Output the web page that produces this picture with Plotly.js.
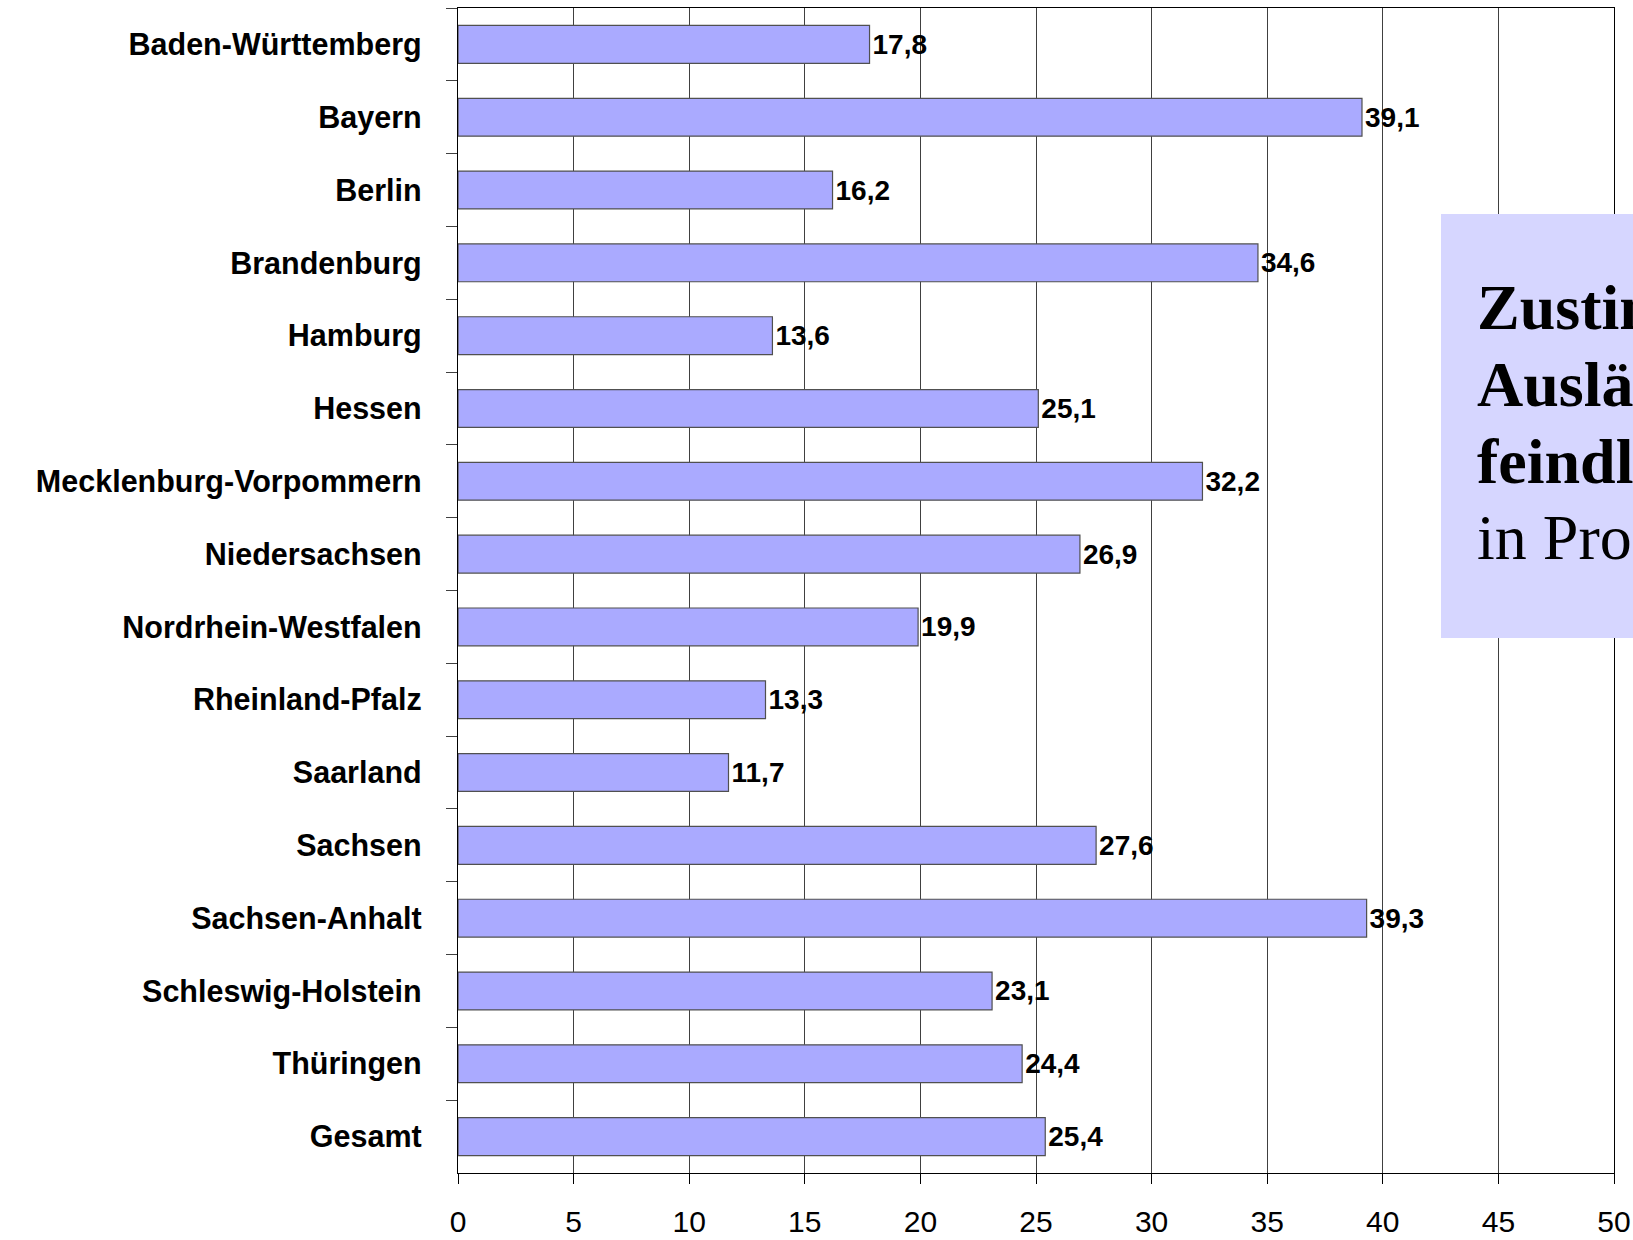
<!DOCTYPE html>
<html>
<head>
<meta charset="utf-8">
<script src="https://cdn.plot.ly/plotly-3.0.1.min.js"></script>
<style>html,body{margin:0;padding:0;background:#fff;overflow:hidden;}</style>
</head>
<body>
<div id="chart" style="width:1633px;height:1240px;"></div>
<script>
const states = ["Baden-Württemberg", "Bayern", "Berlin", "Brandenburg", "Hamburg", "Hessen",
  "Mecklenburg-Vorpommern", "Niedersachsen", "Nordrhein-Westfalen", "Rheinland-Pfalz",
  "Saarland", "Sachsen", "Sachsen-Anhalt", "Schleswig-Holstein", "Thüringen", "Gesamt"];
const values = [17.8, 39.1, 16.2, 34.6, 13.6, 25.1, 32.2, 26.9, 19.9, 13.3, 11.7, 27.6, 39.3, 23.1, 24.4, 25.4];
const xTicks = [0, 5, 10, 15, 20, 25, 30, 35, 40, 45, 50];
const boxLines = ["<b>Zustimmung zur</b>", "<b>Ausländer-</b>", "<b>feindlichkeit</b>", "in Prozent"];

const W = 1633, H = 1240;
const mL = 458, mR = 19, mT = 8, mB = 67;
const plotH = H - mT - mB;
const plotW = W - mL - mR;
const py = (pix) => 1 - (pix - mT) / plotH;
const px = (pix) => (pix - mL) / plotW;

const trace = {
  type: "bar",
  orientation: "h",
  y: states,
  x: values,
  width: 0.52,
  marker: { color: "#AAAAFF", line: { color: "#505050", width: 1.2 } },
  texttemplate: "<b>%{x:.1f}</b>",
  textposition: "outside",
  cliponaxis: false,
  textfont: { family: "Liberation Sans, Arial, sans-serif", size: 28, color: "#000", weight: "bold" },
  hoverinfo: "skip"
};

const lineCenters = [307, 384, 461, 537];
const annotations = boxLines.map((t, i) => ({
  xref: "paper", yref: "paper",
  x: px(1475), y: py(lineCenters[i]),
  xanchor: "left", yanchor: "middle",
  text: t, showarrow: false, align: "left",
  font: { family: "Liberation Serif, Times New Roman, serif", size: 64, color: "#000" }
}));

const layout = {
  width: W, height: H,
  margin: { l: mL, r: mR, t: mT, b: mB, pad: 0 },
  paper_bgcolor: "#fff", plot_bgcolor: "#fff",
  separators: ",.",
  showlegend: false,
  bargap: 0.48,
  xaxis: {
    range: [0, 50], tickvals: xTicks, ticktext: xTicks.map(String),
    showgrid: true, gridcolor: "#404040", gridwidth: 1,
    zeroline: false,
    showline: true, linecolor: "#000", linewidth: 1.2, mirror: true,
    ticks: "outside", ticklen: 10, tickcolor: "#000", tickwidth: 1,
    ticklabelstandoff: 12,
    tickfont: { family: "Liberation Sans, Arial, sans-serif", size: 30, color: "#000" },
    fixedrange: true
  },
  yaxis: {
    type: "category", autorange: "reversed",
    showgrid: false, zeroline: false,
    showline: true, linecolor: "#000", linewidth: 1.2, mirror: true,
    ticks: "outside", tickson: "boundaries", ticklen: 11, tickcolor: "#404040", tickwidth: 1,
    ticklabelstandoff: 29,
    tickfont: { family: "Liberation Sans, Arial, sans-serif", size: 30.5, color: "#000", weight: "bold" },
    fixedrange: true
  },
  shapes: [{
    type: "rect", xref: "paper", yref: "paper", layer: "above",
    x0: px(1441), x1: px(1640), y0: py(638), y1: py(214),
    fillcolor: "#D6D6FF", line: { width: 0 }
  }],
  annotations: annotations
};

Plotly.newPlot("chart", [trace], layout, { staticPlot: true, displayModeBar: false });
</script>
</body>
</html>
